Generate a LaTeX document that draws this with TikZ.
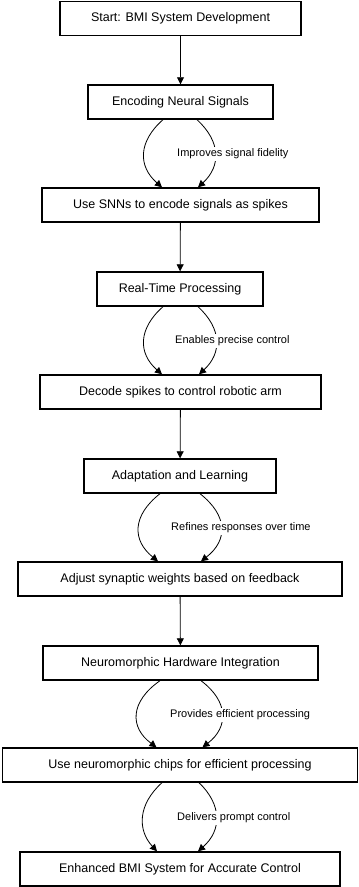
\documentclass[tikz,border=0pt]{standalone}
\usepackage{fontspec}
\setmainfont{Liberation Sans}
\usetikzlibrary{arrows.meta}
\tikzset{
  box/.style={draw,line width=1.4pt,minimum height=34pt,inner sep=0pt,font=\fontsize{12.5}{14}\selectfont},
  flow/.style={-{Triangle[length=7pt,width=7pt]},line width=0.8pt},
  elabel/.style={fill=white,inner sep=2pt,anchor=west,font=\fontsize{11}{12}\selectfont}
}
\begin{document}
\begin{tikzpicture}[x=1pt,y=1pt]
  \useasboundingbox (0,0) rectangle (359,887);
  % Nodes
  \node[box,minimum width=241pt] (start) at (180.5,868.5) {Start: BMI System Development};
  \node[box,minimum width=185pt] (enc) at (180.5,785) {Encoding Neural Signals};
  \node[box,minimum width=277pt] (snn) at (180.5,682) {Use SNNs to encode signals as spikes};
  \node[box,minimum width=166pt] (rt) at (180,598) {Real-Time Processing};
  \node[box,minimum width=281pt] (dec) at (180.5,495) {Decode spikes to control robotic arm};
  \node[box,minimum width=192pt] (adapt) at (180,411) {Adaptation and Learning};
  \node[box,minimum width=324pt] (adj) at (180,308) {Adjust synaptic weights based on feedback};
  \node[box,minimum width=275pt] (hw) at (180.5,224) {Neuromorphic Hardware Integration};
  \node[box,minimum width=355pt] (chips) at (180,122) {Use neuromorphic chips for efficient processing};
  \node[box,minimum width=320pt] (final) at (180,18) {Enhanced BMI System for Accurate Control};

  % Arrows: straight
  \draw[flow] (start) -- (enc);
  \draw[flow] (snn) -- (rt);
  \draw[flow] (dec) -- (adapt);
  \draw[flow] (adj) -- (hw);

  % Arrows: curved pairs
  \draw[flow] ([xshift=-17.5pt]enc.south) .. controls +(-25,-22) and +(-24,21) .. ([xshift=-18.5pt]snn.north);
  \draw[flow] ([xshift=16.5pt]enc.south) .. controls +(24,-22) and +(23,21) .. ([xshift=17.5pt]snn.north);
  \draw[flow] ([xshift=-17pt]rt.south) .. controls +(-25,-22) and +(-24,21) .. ([xshift=-18.5pt]dec.north);
  \draw[flow] ([xshift=18pt]rt.south) .. controls +(24,-22) and +(23,21) .. ([xshift=18.5pt]dec.north);
  \draw[flow] ([xshift=-20pt]adapt.south) .. controls +(-28,-22) and +(-26,21) .. ([xshift=-22pt]adj.north);
  \draw[flow] ([xshift=20pt]adapt.south) .. controls +(28,-22) and +(27,21) .. ([xshift=21pt]adj.north);
  \draw[flow] ([xshift=-20.5pt]hw.south) .. controls +(-30,-21) and +(-27,20) .. ([xshift=-23.5pt]chips.north);
  \draw[flow] ([xshift=20.5pt]hw.south) .. controls +(28,-21) and +(26,20) .. ([xshift=22.5pt]chips.north);
  \draw[flow] ([xshift=-18pt]chips.south) .. controls +(-24.5,-22) and +(-19.5,21) .. ([xshift=-23pt]final.north);
  \draw[flow] ([xshift=19pt]chips.south) .. controls +(23,-22) and +(24,21) .. ([xshift=18pt]final.north);

  % Edge labels
  \node[elabel] (lab1) at (175,733) {Improves signal fidelity};
  \node[elabel] (lab2) at (173,546) {Enables precise control};
  \node[elabel] (lab3) at (169,359) {Refines responses over time};
  \node[elabel] (lab4) at (168,172) {Provides efficient processing};
  \node[elabel] (lab5) at (175,69) {Delivers prompt control};
\end{tikzpicture}
\end{document}
